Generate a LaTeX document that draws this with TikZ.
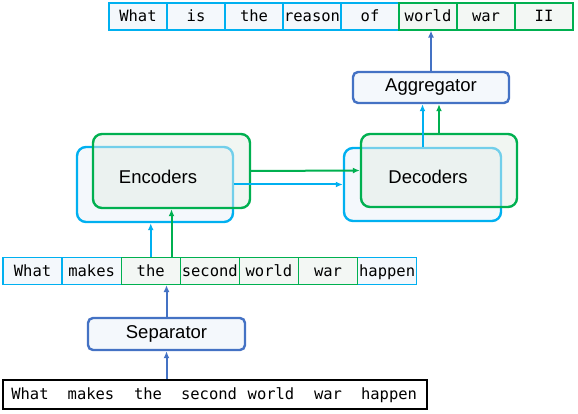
\documentclass[tikz,border=0pt]{standalone}
\usepackage{fontspec}
\setmainfont{Liberation Sans}
\newfontfamily\codefont{DejaVu Sans Mono}
\usetikzlibrary{positioning,arrows.meta}
\definecolor{skyline}{HTML}{00B0F0}
\definecolor{grassline}{HTML}{00B050}
\definecolor{steel}{HTML}{4472C4}
\definecolor{skyfill}{HTML}{F4F8FC}
\definecolor{grassfill}{HTML}{E4EEE6}
\begin{document}
\begin{tikzpicture}[x=1pt,y=-1pt,
  word/.style={minimum height=27pt, inner sep=0pt, line width=1.2pt,
    text height=12pt, text depth=2pt,
    font=\codefont\fontsize{15.5}{18}\selectfont},
  blueword/.style={word, draw=skyline, fill=skyfill},
  greenword/.style={word, draw=grassline, fill=grassfill!45},
  bigbox/.style={rounded corners=9pt, line width=2.4pt},
  bluebox/.style={bigbox, draw=skyline, fill=skyfill},
  greenbox/.style={bigbox, draw=grassline, fill=grassfill, fill opacity=0.5},
  stagebox/.style={draw=steel, fill=skyfill, rounded corners=5pt, line width=2.4pt,
    minimum width=156pt, minimum height=31pt, font=\fontsize{18.5}{20}\selectfont},
  label/.style={font=\fontsize{18.5}{20}\selectfont},
  link/.style={line width=2pt, -{Latex[length=7pt,width=6pt]}}]
\useasboundingbox (0,0) rectangle (578,414);

% output question
\foreach \w [count=\i] in {What,is,the,reason,of}
  \node[blueword, minimum width=58pt] (out\i) at (109+58*\i-29,16.5) {\w};
\foreach \w [count=\i from 6] in {world,war,II}
  \node[greenword, minimum width=58pt] (out\i) at (109+58*\i-29,16.5) {\w};

% separated words
\foreach \w/\i in {What/1,makes/2,happen/7}
  \node[blueword, minimum width=59.1pt] (mid\i) at (3+59.1*\i-29.57,271) {\w};
\foreach \w/\i in {the/3,second/4,world/5,war/6}
  \node[greenword, minimum width=59.1pt] (mid\i) at (3+59.1*\i-29.57,271) {\w};

% input sentence
\node[draw, line width=1.2pt, minimum width=424pt, minimum height=29pt] (query) at (215,394.5) {};
\foreach \w/\x [count=\i] in {What/30,makes/91,the/148,second/209,world/271,war/328,happen/389}
  \node[font=\codefont\fontsize{15.5}{18}\selectfont, text height=12pt, text depth=2pt,
    inner sep=0pt] (q\i) at (\x,394.5) {\w};

% encoder / decoder stacks
\node[bluebox, minimum width=156pt, minimum height=75pt] (encB) at (155,184.5) {};
\node[greenbox, minimum width=157pt, minimum height=74pt] (encG) at (171.5,171) {};
\node[label] (encL) at (158,177) {Encoders};
\node[bluebox, minimum width=157pt, minimum height=73pt] (decB) at (422.5,184.5) {};
\node[greenbox, minimum width=156pt, minimum height=73pt] (decG) at (439,170.5) {};
\node[label] (decL) at (428,177) {Decoders};

\node[stagebox] (agg) at (431,87.5) {Aggregator};
\node[stagebox, minimum width=157pt, minimum height=32pt] (sep) at (166.5,334) {Separator};

\draw[link, steel] (sep.south |- query.north) -- (sep.south);
\draw[link, steel] (sep.north) -- (sep.north |- mid3.south);
\draw[link, skyline] (mid3.north) -- (mid3.north |- encB.south);
\draw[link, grassline] (encG.south |- mid3.north) -- (encG.south);
\draw[link, grassline] (encG.east) -- (decG.west);
\draw[link, skyline] (encB.east) -- (decB.west);
\draw[link, skyline] (decB.north) -- (decB.north |- agg.south);
\draw[link, grassline] (decG.north) -- (decG.north |- agg.south);
\draw[link, steel] (agg.north) -- (agg.north |- out6.south);
\end{tikzpicture}
\end{document}
